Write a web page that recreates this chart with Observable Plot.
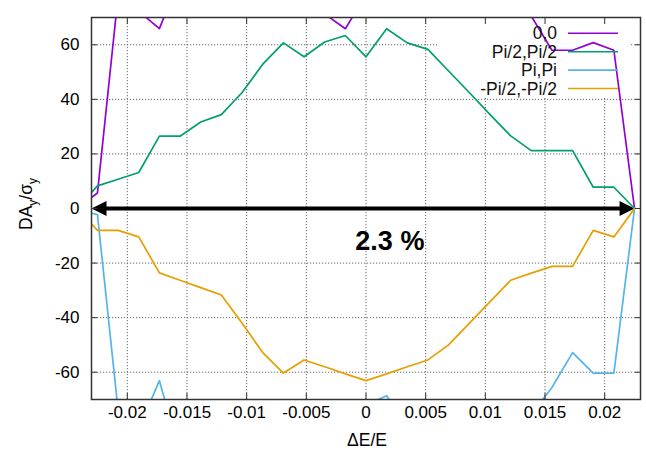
<!DOCTYPE html>
<html><head><meta charset="utf-8">
<script src="https://cdn.jsdelivr.net/npm/d3@7"></script>
<script src="https://cdn.jsdelivr.net/npm/@observablehq/plot@0.6"></script>
<style>body{margin:0;background:#fff;} svg{display:block;}</style>
</head><body><div id="chart"></div>
<script>
// ΔE/E sample points
const dE = [-0.02423, -0.02250, -0.02077, -0.01904, -0.01731, -0.01558, -0.01385, -0.01212, -0.01038, -0.00865, -0.00692, -0.00519, -0.00346, -0.00173, 0, 0.00173, 0.00346, 0.00519, 0.00692, 0.00865, 0.01038, 0.01212, 0.01385, 0.01558, 0.01731, 0.01904, 0.02077, 0.02250];
// DA_y/σ_y per series (values beyond ±70 are clipped in the reference; estimated)
const s00   = [0, 5.7, 78, 72.3, 65.9, 85, 95, 105, 115, 120, 125, 120, 71.3, 65.9, 78.4, 100, 115, 120, 118, 110, 100, 85, 70.5, 58, 58, 60.8, 58, 0];
const sPi2  = [0, 8.3, 10.7, 13.2, 26.5, 26.5, 31.7, 34.4, 42.5, 52.9, 60.7, 55.6, 61.0, 63.4, 55.6, 65.9, 60.7, 58.3, 50.4, 42.5, 34.5, 26.6, 21.2, 21.2, 21.2, 7.8, 7.8, 0];
const sPiPi = [0, -2.3, -74, -80.7, -63.1, -90, -100, -110, -118, -122, -120, -110, -95, -80, -72, -68.6, -80, -95, -105, -110, -105, -90, -75.4, -65.6, -52.8, -60.3, -60.3, 0];
const sMPi2 = [0, -8.0, -8.0, -10.4, -23.6, -26.3, -29.0, -31.7, -42.1, -52.8, -60.3, -55.5, -58.0, -60.6, -63.1, -60.6, -58.0, -55.5, -50.0, -42.1, -34.2, -26.3, -23.7, -21.2, -21.2, -8.0, -10.4, 0];

const seriesNames  = ["0,0", "Pi/2,Pi/2", "Pi,Pi", "-Pi/2,-Pi/2"];
const seriesColors = ["#9400d3", "#009e73", "#56b4e9", "#e69f00"];
const seriesValues = [s00, sPi2, sPiPi, sMPi2];

const xTicks = [-0.02, -0.015, -0.01, -0.005, 0, 0.005, 0.01, 0.015, 0.02];
const yTicks = [-60, -40, -20, 0, 20, 40, 60];
const xDomain = [-0.023, 0.023];
const yDomain = [-70, 70];

const arrowSpan = [-0.023, 0.0225];
const annotX = [0.002];
const annotY = [-12];
const annotText = ["2.3 %"];

const FONT = "'Liberation Sans', Arial, Helvetica, sans-serif";

const rows = seriesValues.flatMap((vals, k) => vals.map((v, i) => ({x: dE[i], y: v, s: seriesNames[k]})));

const headSymbol = {draw(ctx) { ctx.moveTo(0, 0); ctx.lineTo(-15, -7.5); ctx.lineTo(-15, 7.5); ctx.closePath(); }};

function legendBox() {
  const g = d3.create("svg:g");
  g.append("rect").attr("x", 437).attr("y", 18).attr("width", 192).attr("height", 80).attr("fill", "white");
  return g.node();
}
function legend() {
  const g = d3.create("svg:g").attr("font-family", FONT).attr("font-size", 17.5);
  seriesNames.forEach((n, i) => {
    const y = 33.3 + i * 18.4;
    g.append("text").attr("x", 557).attr("y", y).attr("dy", "0.35em").attr("text-anchor", "end").attr("fill", "#111").text(n);
    g.append("line").attr("x1", 568).attr("x2", 618).attr("y1", y).attr("y2", y)
      .attr("stroke", seriesColors[i]).attr("stroke-width", 1.6);
  });
  return g.node();
}

const lineMarks = seriesNames.map((n, k) =>
  Plot.line(rows.filter(r => r.s === n), {x: "x", y: "y", stroke: seriesColors[k], strokeWidth: 1.7, clip: true})
);

const chart = Plot.plot({
  width: 646, height: 455,
  marginLeft: 91, marginRight: 6, marginTop: 17, marginBottom: 56,
  x: {domain: xDomain},
  y: {domain: yDomain},
  style: {fontFamily: FONT, fontSize: "17px", color: "#000", background: "white"},
  marks: [
    Plot.gridX(xTicks, {stroke: "#666", strokeOpacity: 1, strokeDasharray: "1.2,1.8"}),
    Plot.gridY(yTicks, {stroke: "#666", strokeOpacity: 1, strokeDasharray: "1.2,1.8"}),
    legendBox,
    Plot.arrow([{x1: arrowSpan[0], x2: arrowSpan[1], y: 0}], {x1: "x1", x2: "x2", y1: "y", y2: "y", stroke: "black", strokeWidth: 4, headLength: 0, insetStart: 12, insetEnd: 12, strokeLinecap: "butt"}),
    Plot.dot([{x: arrowSpan[1], y: 0}], {x: "x", y: "y", symbol: headSymbol, fill: "black", stroke: "none", rotate: 0}),
    Plot.dot([{x: arrowSpan[0], y: 0}], {x: "x", y: "y", symbol: headSymbol, fill: "black", stroke: "none", rotate: 180}),
    ...lineMarks,
    Plot.text(annotText, {x: (d, i) => annotX[i], y: (d, i) => annotY[i], text: d => d, fontSize: 27, fontWeight: "bold", fill: "black"}),
    legend,
    Plot.axisX(xTicks, {anchor: "bottom", tickSize: -6, tickPadding: 12, tickFormat: d => String(d), label: null, stroke: "#333", fill: "#000"}),
    Plot.axisX(xTicks, {anchor: "top", tickSize: -6, tickFormat: () => "", label: null, stroke: "#333"}),
    Plot.axisY(yTicks, {anchor: "left", tickSize: -6, tickPadding: 18, tickFormat: d => String(d), label: null, stroke: "#333", fill: "#000"}),
    Plot.axisY(yTicks, {anchor: "right", tickSize: -6, tickFormat: () => "", label: null, stroke: "#333"}),
    Plot.frame({stroke: "#333", strokeWidth: 1.5})
  ]
});

const svg = d3.select(chart);
// x axis title
svg.append("text").attr("x", 367).attr("y", 446).attr("text-anchor", "middle")
  .attr("font-family", FONT).attr("font-size", 17.5).attr("fill", "#000").text("ΔE/E");
// y axis title with subscripts
const yl = svg.append("text").attr("transform", "translate(32,204) rotate(-90)").attr("text-anchor", "middle")
  .attr("font-family", FONT).attr("font-size", 17.5).attr("fill", "#000");
yl.append("tspan").text("DA");
yl.append("tspan").attr("font-size", 12).attr("dy", 5).text("y");
yl.append("tspan").attr("dy", -5).text("/σ");
yl.append("tspan").attr("font-size", 12).attr("dy", 5).text("y");

document.getElementById("chart").append(chart);
</script>
</body></html>
